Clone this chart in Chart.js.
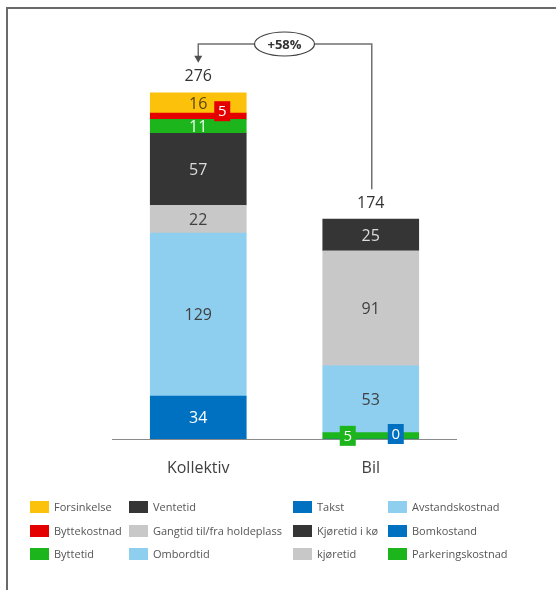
<!DOCTYPE html>
<html>
<head>
<meta charset="utf-8">
<script src="https://cdn.jsdelivr.net/npm/chart.js@4.4.0/dist/chart.umd.min.js"></script>
<style>
  html, body { margin: 0; padding: 0; background: #fff; }
  #wrap { width: 556px; height: 590px; position: relative; }
</style>
</head>
<body>
<div id="wrap"><canvas id="chart" width="556" height="590"></canvas></div>
<script>
// === Data ===
const categories = ["Kollektiv", "Bil"];
const totals = [276, 174];
const changeLabel = "+58%";

// Kollektiv components (bottom to top)
const takst = [34, null];
const ombordtid = [129, null];
const gangtid = [22, null];
const ventetid = [57, null];
const byttetid = [11, null];
const byttekostnad = [5, null];
const forsinkelse = [16, null];

// Bil components (bottom to top)
const bomkostand = [null, 0];
const parkeringskostnad = [null, 5];
const avstandskostnad = [null, 53];
const kjoretid = [null, 91];
const kjoretidKo = [null, 25];

// legend columns (top to bottom)
const legendColumns = [
  ["Forsinkelse", "Byttekostnad", "Byttetid"],
  ["Ventetid", "Gangtid til/fra holdeplass", "Ombordtid"],
  ["Takst", "Kjøretid i kø", "kjøretid"],
  ["Avstandskostnad", "Bomkostand", "Parkeringskostnad"],
];

// === Styling ===
const FONT = "'Open Sans', 'Liberation Sans', sans-serif";
const DARK_TXT = "#404040";

function ds(label, data, color, txt, extra) {
  return Object.assign({ label, data, backgroundColor: color, txtColor: txt }, extra || {});
}

const datasets = [
  ds("Takst", takst, "#0070c0", "#ffffff"),
  ds("Ombordtid", ombordtid, "#8ecff0", DARK_TXT),
  ds("Gangtid til/fra holdeplass", gangtid, "#c8c8c8", DARK_TXT),
  ds("Ventetid", ventetid, "#353535", "#dcdcdc"),
  ds("Byttetid", byttetid, "#1cb51c", "#eaffea"),
  ds("Byttekostnad", byttekostnad, "#e50000", "#ffffff", { box: true, dx: 24, dy: -5 }),
  ds("Forsinkelse", forsinkelse, "#fcc10a", "#5a4410"),
  ds("Bomkostand", bomkostand, "#0070c0", "#ffffff", { box: true, dx: 25, dy: -5 }),
  ds("Parkeringskostnad", parkeringskostnad, "#1cb51c", "#ffffff", { box: true, dx: -23, dy: 0 }),
  ds("Avstandskostnad", avstandskostnad, "#8ecff0", DARK_TXT),
  ds("kjøretid", kjoretid, "#c8c8c8", DARK_TXT),
  ds("Kjøretid i kø", kjoretidKo, "#353535", "#dcdcdc"),
];

// === Custom drawing plugin ===
const decorPlugin = {
  id: "decor",
  afterDatasetsDraw(chart) {
    const ctx = chart.ctx;
    const area = chart.chartArea;
    const xs = chart.scales.x;

    // frame
    ctx.save();
    ctx.strokeStyle = "#6a6a6a";
    ctx.lineWidth = 2;
    ctx.beginPath();
    ctx.moveTo(7, 590);
    ctx.lineTo(7, 8);
    ctx.lineTo(556, 8);
    ctx.stroke();

    // baseline
    ctx.strokeStyle = "#8a8a8a";
    ctx.lineWidth = 1;
    ctx.beginPath();
    ctx.moveTo(area.left, area.bottom + 0.5);
    ctx.lineTo(area.right, area.bottom + 0.5);
    ctx.stroke();

    // segment labels
    ctx.textAlign = "center";
    ctx.textBaseline = "middle";
    const tops = categories.map(() => area.bottom);
    chart.data.datasets.forEach((d, di) => {
      const meta = chart.getDatasetMeta(di);
      d.data.forEach((v, i) => {
        if (v === null) return;
        const el = meta.data[i];
        tops[i] = Math.min(tops[i], el.y);
        const cx = el.x + (d.dx || 0);
        const cy = (el.y + el.base) / 2 + (d.dy || 0);
        if (d.box) {
          ctx.fillStyle = d.backgroundColor;
          ctx.fillRect(cx - 8, cy - 10, 16, 20);
          ctx.font = "15px " + FONT;
        } else {
          ctx.font = "16px " + FONT;
        }
        ctx.fillStyle = d.txtColor;
        ctx.fillText(String(v), cx, cy + 1);
      });
    });

    // totals
    ctx.fillStyle = "#333333";
    ctx.font = "16px " + FONT;
    const centers = categories.map((c, i) => xs.getPixelForValue(i));
    totals.forEach((t, i) => {
      ctx.fillText(String(t), centers[i], tops[i] - 16);
    });

    // category labels
    ctx.fillStyle = "#404040";
    ctx.font = "16px " + FONT;
    categories.forEach((c, i) => ctx.fillText(c, centers[i], area.bottom + 29));

    // change annotation
    const yLine = 44;
    ctx.strokeStyle = "#707070";
    ctx.lineWidth = 1.5;
    ctx.beginPath();
    ctx.moveTo(centers[1] + 1, tops[1] - 30);
    ctx.lineTo(centers[1] + 1, yLine);
    ctx.lineTo(centers[0], yLine);
    ctx.lineTo(centers[0], tops[0] - 36);
    ctx.stroke();
    ctx.fillStyle = "#505050";
    ctx.beginPath();
    ctx.moveTo(centers[0] - 4, tops[0] - 37);
    ctx.lineTo(centers[0] + 4, tops[0] - 37);
    ctx.lineTo(centers[0], tops[0] - 30);
    ctx.closePath();
    ctx.fill();

    const ex = (centers[0] + centers[1]) / 2;
    ctx.fillStyle = "#ffffff";
    ctx.strokeStyle = "#404040";
    ctx.lineWidth = 1.2;
    ctx.beginPath();
    ctx.ellipse(ex, yLine, 30, 12, 0, 0, Math.PI * 2);
    ctx.fill();
    ctx.stroke();
    ctx.fillStyle = "#333333";
    ctx.font = "bold 13px " + FONT;
    ctx.fillText(changeLabel, ex, yLine + 1);

    // legend
    const colX = [30, 129, 293, 388];
    const rowY = [507, 531, 554];
    ctx.textAlign = "left";
    ctx.font = "11px " + FONT;
    legendColumns.forEach((col, ci) => {
      col.forEach((name, ri) => {
        const d = chart.data.datasets.find((s) => s.label === name);
        ctx.fillStyle = d.backgroundColor;
        ctx.fillRect(colX[ci], rowY[ri] - 6, 19, 12);
        ctx.fillStyle = "#555555";
        ctx.fillText(name, colX[ci] + 24, rowY[ri] + 1);
      });
    });
    ctx.restore();
  },
};

new Chart(document.getElementById("chart").getContext("2d"), {
  type: "bar",
  data: { labels: categories, datasets },
  options: {
    responsive: false,
    animation: false,
    devicePixelRatio: 1,
    layout: { padding: { left: 112, right: 99, top: 60, bottom: 151 } },
    datasets: { bar: { barThickness: 96, borderWidth: 0 } },
    plugins: { legend: { display: false }, tooltip: { enabled: false } },
    scales: {
      x: { stacked: true, display: false },
      y: { stacked: true, display: false, min: 0, max: 300 },
    },
  },
  plugins: [decorPlugin],
});
</script>
</body>
</html>
